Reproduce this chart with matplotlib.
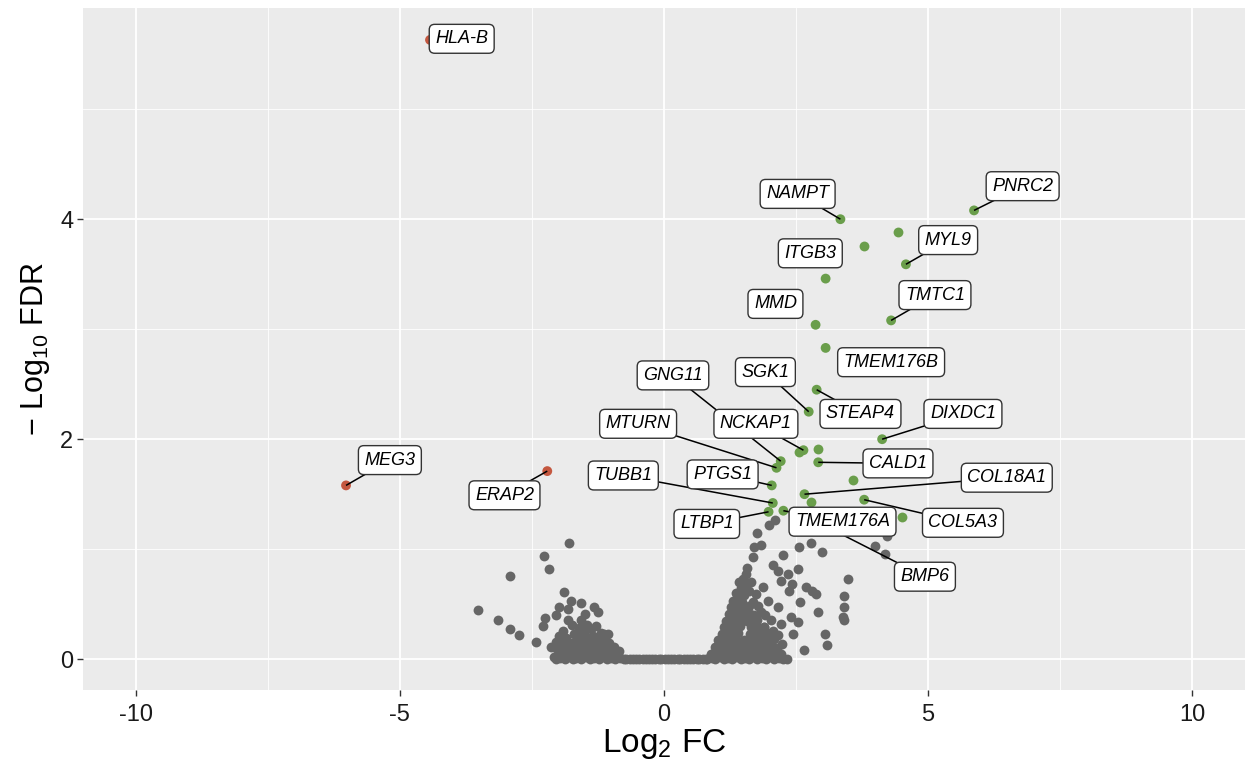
import numpy as np
import matplotlib
matplotlib.use('Agg')
import matplotlib.pyplot as plt

plt.rcParams['font.family'] = ['Liberation Sans', 'DejaVu Sans']
plt.rcParams['mathtext.default'] = 'regular'
plt.rcParams['axes.unicode_minus'] = False

# Significant genes that get a label (log2 FC, -log10 FDR)
genes = ['HLA-B', 'MEG3', 'ERAP2', 'PNRC2', 'NAMPT', 'MYL9', 'ITGB3', 'MMD',
         'TMTC1', 'TMEM176B', 'SGK1', 'STEAP4', 'DIXDC1', 'GNG11', 'NCKAP1',
         'MTURN', 'CALD1', 'PTGS1', 'TUBB1', 'COL18A1', 'LTBP1', 'TMEM176A',
         'COL5A3', 'BMP6']
gene_fc = [-4.43, -6.02, -2.21, 5.87, 3.34, 4.58, 3.06, 2.87,
           4.30, 3.06, 2.74, 2.89, 4.13, 2.21, 2.64,
           2.13, 2.92, 2.04, 2.06, 2.66, 1.98, 2.26,
           3.79, 2.81]
gene_fdr = [5.63, 1.58, 1.71, 4.08, 4.00, 3.59, 3.46, 3.04,
            3.08, 2.83, 2.25, 2.45, 2.00, 1.80, 1.90,
            1.74, 1.79, 1.58, 1.42, 1.50, 1.34, 1.35,
            1.45, 1.27]

# Other significant up-regulated genes without a label
up_fc = [4.43, 3.79, 2.55, 2.92, 3.57, 2.79, 4.50]
up_fdr = [3.88, 3.76, 1.88, 1.91, 1.63, 1.43, 1.29]

# Non-significant genes
gray_left = [
    (-3.53, 0.45), (-3.15, 0.36), (-2.91, 0.27), (-2.74, 0.22), (-2.42, 0.16),
    (-2.92, 0.76), (-2.28, 0.94), (-2.17, 0.82), (-1.79, 1.06),
    (-1.89, 0.61), (-1.77, 0.53), (-1.58, 0.51), (-1.98, 0.47), (-1.81, 0.46),
    (-1.32, 0.47), (-1.25, 0.43), (-1.49, 0.41), (-2.05, 0.40), (-2.26, 0.37),
    (-2.30, 0.30), (-1.81, 0.36), (-1.57, 0.36), (-1.45, 0.31), (-1.28, 0.30),
    (-1.70, 0.23), (-1.51, 0.23), (-1.13, 0.23), (-1.06, 0.23), (-1.19, 0.24),
    (-2.04, 0.16), (-1.89, 0.15), (-1.32, 0.16), (-1.04, 0.15), (-2.09, 0.11),
    (-2.13, 0.11), (-0.94, 0.11), (-0.85, 0.07), (-1.70, 0.07), (-1.51, 0.07),
    (-1.25, 0.07), (-2.09, 0.02),
    (-2.05, 0.00), (-1.96, 0.01), (-1.88, 0.00), (-1.81, 0.02), (-1.72, 0.00),
    (-1.66, 0.01), (-1.57, 0.00), (-1.48, 0.02), (-1.41, 0.00), (-1.33, 0.01),
    (-1.24, 0.00), (-1.17, 0.02), (-1.08, 0.00), (-1.01, 0.01), (-0.92, 0.00),
    (-0.84, 0.01), (-2.00, 0.05), (-1.91, 0.04), (-1.79, 0.05), (-1.71, 0.04),
    (-1.62, 0.05), (-1.53, 0.03), (-1.44, 0.05), (-1.35, 0.04), (-1.27, 0.05),
    (-1.18, 0.03), (-1.10, 0.05), (-0.99, 0.04), (-0.90, 0.03),
    (-1.95, 0.10), (-1.86, 0.09), (-1.77, 0.11), (-1.66, 0.10), (-1.58, 0.12),
    (-1.46, 0.10), (-1.38, 0.11), (-1.30, 0.09), (-1.20, 0.10), (-1.11, 0.12),
    (-1.02, 0.09), (-1.75, 0.15), (-1.61, 0.16), (-1.48, 0.14), (-1.40, 0.17),
    (-1.22, 0.15), (-1.15, 0.17), (-1.85, 0.19), (-1.63, 0.20), (-1.45, 0.19),
    (-1.35, 0.21), (-1.24, 0.19), (-1.60, 0.28), (-1.38, 0.27),
    (-1.92, 0.26), (-1.74, 0.31), (-1.52, 0.29), (-1.67, 0.16), (-1.98, 0.21),
]

gray_flat = [
    (-0.76, 0.0), (-0.71, 0.0), (-0.65, 0.0), (-0.58, 0.0), (-0.53, 0.0),
    (-0.47, 0.0), (-0.40, 0.0), (-0.35, 0.0), (-0.28, 0.0), (-0.22, 0.0),
    (-0.17, 0.0), (-0.10, 0.0), (-0.05, 0.0), (0.02, 0.0), (0.07, 0.0),
    (0.14, 0.0), (0.19, 0.0), (0.26, 0.0), (0.31, 0.0), (0.38, 0.0),
    (0.43, 0.0), (0.50, 0.0), (0.55, 0.0), (0.62, 0.0), (0.67, 0.0),
    (0.74, 0.0), (0.79, 0.0),
]

gray_right = [
    (2.11, 1.27), (1.98, 1.22), (1.77, 1.15), (1.83, 1.04), (1.70, 1.02),
    (1.68, 0.93), (2.25, 0.95), (2.55, 1.02), (2.79, 1.06), (3.00, 0.97),
    (2.06, 0.86), (1.58, 0.83), (1.55, 0.77), (2.15, 0.80), (2.34, 0.77),
    (2.53, 0.82), (1.49, 0.73), (1.64, 0.70), (2.21, 0.71), (2.43, 0.68),
    (3.49, 0.73), (1.87, 0.66), (2.68, 0.66), (1.45, 0.65), (2.81, 0.62),
    (1.74, 0.59), (2.36, 0.62), (2.87, 0.59), (1.40, 0.57), (3.40, 0.57),
    (1.96, 0.53), (2.57, 0.52), (3.40, 0.47), (1.36, 0.48), (2.15, 0.47),
    (2.91, 0.43), (3.38, 0.38), (1.30, 0.41), (1.83, 0.43), (2.40, 0.38),
    (2.21, 0.32), (2.53, 0.34), (1.26, 0.34), (1.89, 0.29), (2.45, 0.23),
    (3.04, 0.23), (1.21, 0.24), (1.64, 0.21), (2.08, 0.18), (3.08, 0.13),
    (2.66, 0.08), (2.32, 0.00), (1.13, 0.15), (1.96, 0.06), (1.58, 0.05),
    (4.00, 1.03), (4.19, 0.96), (4.23, 1.12), (3.40, 0.36),
    (0.82, 0.00), (0.90, 0.01), (0.97, 0.00), (1.06, 0.02), (1.13, 0.00),
    (1.22, 0.01), (1.29, 0.00), (1.38, 0.02), (1.45, 0.00), (1.54, 0.01),
    (1.61, 0.00), (1.70, 0.02), (1.77, 0.00), (1.86, 0.01), (1.93, 0.00),
    (2.02, 0.02), (2.09, 0.00), (2.18, 0.01), (2.26, 0.00),
    (0.89, 0.05), (0.98, 0.06), (1.05, 0.04), (1.14, 0.06), (1.21, 0.05),
    (1.30, 0.04), (1.37, 0.06), (1.46, 0.05), (1.53, 0.04), (1.62, 0.06),
    (1.69, 0.05), (1.78, 0.04), (1.85, 0.06), (1.94, 0.05), (2.02, 0.06),
    (2.12, 0.04), (2.21, 0.05),
    (0.97, 0.11), (1.06, 0.12), (1.13, 0.10), (1.21, 0.11), (1.30, 0.12),
    (1.37, 0.10), (1.45, 0.11), (1.54, 0.12), (1.61, 0.10), (1.69, 0.11),
    (1.78, 0.12), (1.85, 0.10), (1.93, 0.11), (2.03, 0.12), (2.13, 0.10),
    (1.03, 0.17), (1.11, 0.18), (1.19, 0.16), (1.28, 0.17), (1.35, 0.18),
    (1.43, 0.16), (1.52, 0.17), (1.60, 0.18), (1.68, 0.16), (1.76, 0.17),
    (1.84, 0.18), (1.92, 0.16), (2.00, 0.17),
    (1.09, 0.23), (1.17, 0.24), (1.25, 0.22), (1.33, 0.23), (1.41, 0.24),
    (1.62, 0.23), (1.70, 0.24), (1.78, 0.22), (1.86, 0.23), (1.95, 0.24),
    (1.14, 0.29), (1.22, 0.30), (1.30, 0.28), (1.38, 0.29), (1.44, 0.30),
    (1.64, 0.29), (1.72, 0.30), (1.80, 0.28), (1.90, 0.29),
    (1.18, 0.35), (1.26, 0.36), (1.34, 0.34), (1.42, 0.35), (1.50, 0.36),
    (1.58, 0.35), (1.68, 0.34), (1.76, 0.36),
    (1.23, 0.41), (1.31, 0.42), (1.39, 0.40), (1.47, 0.41), (1.55, 0.42),
    (1.63, 0.41), (1.71, 0.40),
    (1.27, 0.47), (1.35, 0.48), (1.43, 0.46), (1.51, 0.47), (1.60, 0.48),
    (1.31, 0.53), (1.39, 0.54), (1.47, 0.52), (1.37, 0.60), (1.45, 0.61),
    (1.52, 0.58), (1.60, 0.62), (1.42, 0.70), (1.53, 0.68), (1.68, 0.52),
    (1.78, 0.48), (1.92, 0.40), (2.02, 0.36), (2.07, 0.26), (2.16, 0.22),
    (2.24, 0.14), (1.00, 0.08), (1.09, 0.08), (1.18, 0.07),
]

# where each label box sits (data coordinates)
label_pos = {
    'HLA-B': (-3.83, 5.64), 'MEG3': (-5.19, 1.81), 'ERAP2': (-3.02, 1.49),
    'PNRC2': (6.79, 4.30), 'NAMPT': (2.53, 4.23), 'MYL9': (5.38, 3.81),
    'ITGB3': (2.77, 3.69), 'MMD': (2.11, 3.23), 'TMTC1': (5.13, 3.31),
    'TMEM176B': (4.30, 2.70), 'SGK1': (1.92, 2.61), 'STEAP4': (3.72, 2.23),
    'DIXDC1': (5.66, 2.23), 'GNG11': (0.17, 2.58), 'NCKAP1': (1.74, 2.14),
    'MTURN': (-0.49, 2.14), 'CALD1': (4.43, 1.78), 'PTGS1': (1.11, 1.68),
    'TUBB1': (-0.77, 1.67), 'COL18A1': (6.49, 1.65), 'LTBP1': (0.81, 1.23),
    'TMEM176A': (3.38, 1.25), 'COL5A3': (5.66, 1.24), 'BMP6': (4.94, 0.75),
}
no_segment = {'HLA-B', 'ITGB3', 'MMD', 'TMEM176B'}

red = '#C4573F'
green = '#6A9E4B'
gray = '#666666'
msize = 50

fig = plt.figure(figsize=(12.58, 7.69), dpi=100)
ax = fig.add_axes([83 / 1258, 1 - 690 / 769, 1162 / 1258, 682 / 769])
ax.set_facecolor('#EBEBEB')

gray_pts = np.array(gray_left + gray_flat + gray_right)
ax.scatter(gray_pts[:, 0], gray_pts[:, 1], s=msize, color=gray, lw=0, zorder=2)
ax.scatter(up_fc, up_fdr, s=msize, color=green, lw=0, zorder=2.5)
gene_col = [red if fc < 0 else green for fc in gene_fc]
ax.scatter(gene_fc, gene_fdr, s=msize, c=gene_col, lw=0, zorder=2.5)

for g, fc, fdr in zip(genes, gene_fc, gene_fdr):
    lx, ly = label_pos[g]
    if g not in no_segment:
        ax.plot([fc, lx], [fdr, ly], color='black', lw=1.1, zorder=3,
                solid_capstyle='butt')
    ax.text(lx, ly, g, fontsize=13, style='italic', ha='center', va='center',
            zorder=4,
            bbox=dict(boxstyle='round,pad=0.33,rounding_size=0.3',
                      fc='white', ec='#333333', lw=1.0))

ax.set_xlim(-11, 11)
ax.set_ylim(-0.28, 5.92)
ax.set_xticks([-10, -5, 0, 5, 10])
ax.set_xticks([-7.5, -2.5, 2.5, 7.5], minor=True)
ax.set_yticks([0, 2, 4])
ax.set_yticks([1, 3, 5], minor=True)
ax.grid(which='major', color='white', lw=1.3)
ax.grid(which='minor', color='white', lw=0.6)
ax.set_axisbelow(True)
for s in ax.spines.values():
    s.set_visible(False)
ax.tick_params(which='major', length=4, width=1, color='#333333',
               labelsize=17, labelcolor='#1A1A1A')
ax.tick_params(axis='x', which='major', pad=6)
ax.tick_params(axis='y', which='major', pad=3)
ax.tick_params(which='minor', length=0)

ax.set_xlabel('Log$_2$ FC', fontsize=24, labelpad=1)
ax.set_ylabel('\u2212 Log$_{10}$ FDR', fontsize=22, labelpad=6)

fig.savefig('out.png', dpi=100)
